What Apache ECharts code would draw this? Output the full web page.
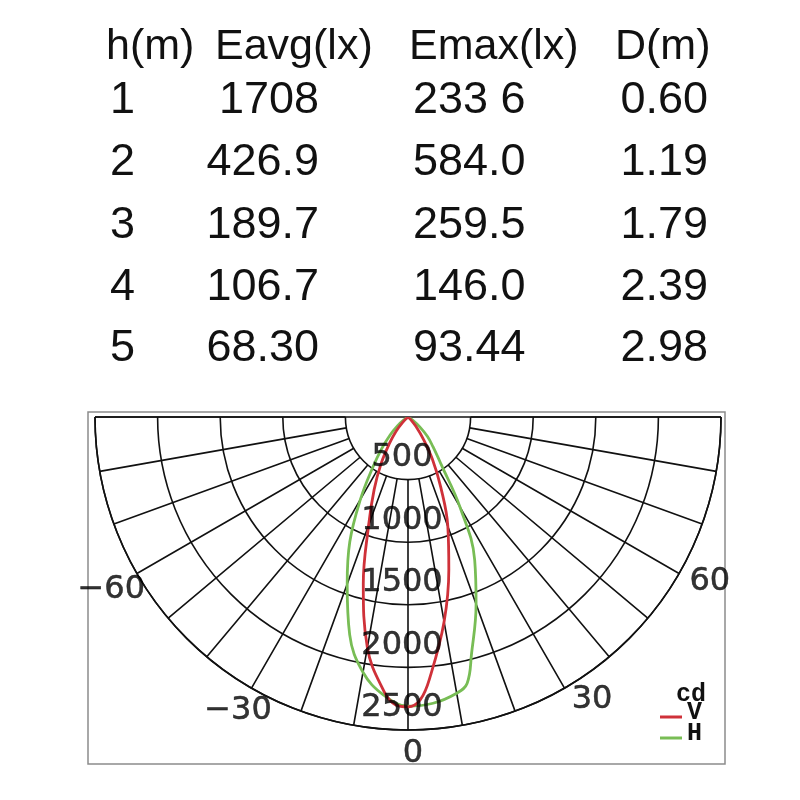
<!DOCTYPE html>
<html>
<head>
<meta charset="utf-8">
<title>Luminous intensity distribution</title>
<script src="https://cdn.jsdelivr.net/npm/echarts@6/dist/echarts.min.js"></script>
<style>
  html, body { margin: 0; padding: 0; background: #fff; }
  #main { width: 800px; height: 800px; }
</style>
</head>
<body>
<div id="main"></div>
<script>
// table at the top
const headers = ['h(m)', 'Eavg(lx)', 'Emax(lx)', 'D(m)']
const heights = ['1', '2', '3', '4', '5']
const eavg = ['1708', '426.9', '189.7', '106.7', '68.30']
const emax = ['233 6', '584.0', '259.5', '146.0', '93.44']
const dist = ['0.60', '1.19', '1.79', '2.39', '2.98']

// intensity curves, angle in degrees from nadir, value in cd
const vAngles = [-50, -45, -40, -35, -30, -25, -20, -15, -10, -5, -2.5, 0, 2.5, 5, 10, 15, 20, 25, 30, 35, 40, 45, 50]
const vValues = [0, 60, 150, 260, 430, 640, 920, 1380, 1870, 2200, 2300, 2315, 2260, 2070, 1660, 1260, 930, 620, 390, 210, 100, 40, 0]
const hAngles = [-60, -55, -50, -45, -40, -35, -30, -25, -20, -15, -10, -5, 0, 5, 10, 12.5, 15, 20, 25, 30, 35, 40, 45, 50, 55, 60]
const hValues = [0, 40, 110, 200, 320, 490, 760, 1100, 1420, 1800, 2070, 2230, 2310, 2295, 2240, 2180, 1960, 1590, 1260, 830, 460, 310, 220, 120, 50, 0]

// axis labels
const ringTicks = [500, 1000, 1500, 2000, 2500]
const angleTicks = [-60, -30, 0, 30, 60]

const RED = '#cf3139'
const GREEN = '#78bd55'
const GRID = '#111'
const INK = '#111'

// layout of the table text
const headerY = 47
const rowY = [101, 163, 226, 288, 349]
const headerX = [106, 215, 409, 615]
const cols = [
  { vals: heights, x: 110, align: 'left' },
  { vals: eavg, x: 319, align: 'right' },
  { vals: emax, x: 413, align: 'left' },
  { vals: dist, x: 708, align: 'right' },
]
// small nudges so the angle labels sit where the original put them
const angleNudge = [[-4, 4], [-1, 1], [5, -1], [15, -10], [9, -4]]

const graphics = []
headers.forEach((h, i) => {
  graphics.push({
    type: 'text', x: headerX[i], y: headerY,
    style: { text: h, align: 'left', verticalAlign: 'middle', fontSize: 43, fontFamily: 'Liberation Sans', fill: INK },
  })
})
cols.forEach((c) => {
  c.vals.forEach((v, r) => {
    graphics.push({
      type: 'text', x: c.x, y: rowY[r],
      style: { text: v, align: c.align, verticalAlign: 'middle', fontSize: 45, fontFamily: 'Liberation Sans', fill: INK },
    })
  })
})
// frame around the polar plot
graphics.push({
  type: 'rect', z: -1,
  shape: { x: 88, y: 412, width: 637, height: 352 },
  style: { fill: 'none', stroke: '#8c8c8c', lineWidth: 1.5 },
})
// unit above the legend
graphics.push({
  type: 'text', x: 676, y: 695,
  style: { text: 'cd', fontSize: 25, fontWeight: 'bold', fontFamily: 'Liberation Mono', fill: INK, align: 'left', verticalAlign: 'middle' },
})

function fmtAngle(a) {
  return a < 0 ? '\u2212' + (-a) : String(a)
}

const gridLine = { color: GRID, width: 1.6 }
const labelInk = { color: '#000', textBorderColor: '#000', textBorderWidth: 0.5 }

const chart = echarts.init(document.getElementById('main'))
chart.setOption({
  animation: false,
  backgroundColor: '#fff',
  graphic: graphics,
  polar: [
    { center: [408, 417], radius: [0, 313] },
    { center: [408, 417], radius: [62.6, 313] },
  ],
  angleAxis: [
    {
      polarIndex: 0, type: 'value', min: -90, max: 90, interval: 180,
      startAngle: 180, endAngle: 360, clockwise: false,
      axisLine: { show: true, lineStyle: gridLine },
      axisTick: { show: false }, axisLabel: { show: false },
      splitLine: { show: true, lineStyle: gridLine },
    },
    {
      polarIndex: 1, type: 'value', min: -90, max: 90, interval: 10,
      startAngle: 180, endAngle: 360, clockwise: false,
      axisLine: { show: false }, axisTick: { show: false }, axisLabel: { show: false },
      splitLine: { show: true, lineStyle: gridLine },
    },
  ],
  radiusAxis: [
    { polarIndex: 0, type: 'value', min: 0, max: 2500, show: false },
    {
      polarIndex: 1, type: 'value', min: 500, max: 2500, interval: 500,
      axisLine: { show: false }, axisTick: { show: false }, axisLabel: { show: false },
      splitLine: { show: true, lineStyle: gridLine },
    },
  ],
  legend: {
    orient: 'vertical', left: 660, top: 700, padding: 0, itemGap: -4,
    itemWidth: 22, itemHeight: 12,
    icon: 'path://M0,0L0,0M0,9L22,9L22,12L0,12Z',
    textStyle: { fontFamily: 'Liberation Mono', fontWeight: 'bold', fontSize: 25, color: INK, lineHeight: 20 },
    data: ['V', 'H'],
  },
  series: [
    {
      name: 'V', type: 'line', coordinateSystem: 'polar', polarIndex: 0,
      data: vAngles.map((a, i) => [vValues[i], a]),
      smooth: 0.4, showSymbol: false, symbol: 'none', clip: false, z: 4,
      lineStyle: { color: RED, width: 2.8 }, itemStyle: { color: RED },
    },
    {
      name: 'H', type: 'line', coordinateSystem: 'polar', polarIndex: 0,
      data: hAngles.map((a, i) => [hValues[i], a]),
      smooth: 0.4, showSymbol: false, symbol: 'none', clip: false, z: 3,
      lineStyle: { color: GREEN, width: 2.8 }, itemStyle: { color: GREEN },
    },
    {
      // ring values, written just inside each ring on the nadir line
      name: 'rings', type: 'scatter', coordinateSystem: 'polar', polarIndex: 0,
      symbolSize: 1, silent: true, clip: false, z: 6,
      itemStyle: { color: 'transparent' },
      data: ringTicks.map((v) => [v, 0]),
      label: Object.assign({
        show: true, position: 'inside', offset: [-6, -22],
        formatter: (p) => String(p.value[0]),
        fontFamily: 'DejaVu Sans', fontSize: 32,
      }, labelInk),
    },
    {
      // angle labels outside the outer ring
      name: 'angles', type: 'scatter', coordinateSystem: 'polar', polarIndex: 0,
      symbolSize: 1, silent: true, clip: false, z: 6,
      itemStyle: { color: 'transparent' },
      data: angleTicks.map((a, i) => ({ value: [2700, a], label: { offset: angleNudge[i] } })),
      label: Object.assign({
        show: true, position: 'inside',
        formatter: (p) => fmtAngle(p.value[1]),
        fontFamily: 'DejaVu Sans', fontSize: 32,
      }, labelInk),
    },
  ],
})
</script>
</body>
</html>
